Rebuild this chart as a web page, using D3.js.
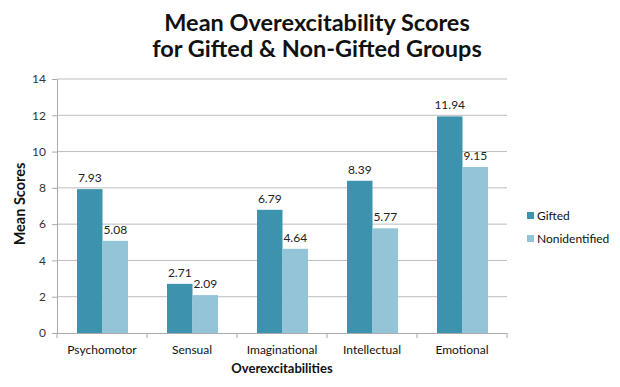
<!DOCTYPE html>
<html>
<head>
<meta charset="utf-8">
<script src="https://cdn.jsdelivr.net/npm/d3@7"></script>
<style>
  body { margin: 0; background: #fff; }
  text { font-family: Lato, "Open Sans", sans-serif; }
</style>
</head>
<body>
<svg id="chart" width="620" height="387"></svg>
<script>
const categories = ["Psychomotor", "Sensual", "Imaginational", "Intellectual", "Emotional"];
const series = ["Gifted", "Nonidentified"];
const gifted = [7.93, 2.71, 6.79, 8.39, 11.94];
const nonidentified = [5.08, 2.09, 4.64, 5.77, 9.15];
const yTicks = [0, 2, 4, 6, 8, 10, 12, 14];
const colors = ["#3d93ad", "#93c4d7"];

const svg = d3.select("#chart");
const margin = { left: 57, right: 113, top: 79, bottom: 54 };
const width = 620 - margin.left - margin.right;
const height = 387 - margin.top - margin.bottom;

const g = svg.append("g").attr("transform", `translate(${margin.left},${margin.top})`);

const x = d3.scaleBand().domain(categories).range([0, width]);
const y = d3.scaleLinear().domain([0, 14]).range([height, 0]);
const barW = 25.5;
const xs = d3.scaleBand().domain(series).range([20, 20 + barW * 2]);

// gridlines
g.selectAll(".grid").data(yTicks.slice(1)).enter().append("line")
  .attr("x1", 0).attr("x2", width)
  .attr("y1", d => y(d)).attr("y2", d => y(d))
  .attr("stroke", "#bdbdbd").attr("stroke-width", 1);

// y axis
const yAxis = g.append("g").call(d3.axisLeft(y).tickValues(yTicks).tickSize(5).tickPadding(6));
yAxis.select(".domain").attr("stroke", "#aaa");
yAxis.selectAll(".tick line").attr("stroke", "#aaa");
yAxis.selectAll("text").attr("fill", "#333").style("font-size", "12px");

// bars
const rows = categories.map((c, i) => ({ cat: c, vals: [gifted[i], nonidentified[i]] }));
const grp = g.selectAll(".grp").data(rows).enter().append("g")
  .attr("transform", d => `translate(${x(d.cat)},0)`);

grp.selectAll("rect").data(d => d.vals.map((v, j) => ({ s: series[j], v, j }))).enter().append("rect")
  .attr("x", d => xs(d.s)).attr("width", xs.bandwidth())
  .attr("y", d => y(d.v)).attr("height", d => height - y(d.v))
  .attr("fill", d => colors[d.j]);

grp.selectAll(".lbl").data(d => d.vals.map((v, j) => ({ s: series[j], v, j }))).enter().append("text")
  .attr("x", d => xs(d.s) + xs.bandwidth() / 2)
  .attr("y", d => y(d.v) - 7)
  .attr("text-anchor", "middle")
  .attr("fill", "#222").style("font-size", "12px")
  .text(d => d.v.toFixed(2));

// x axis
const xAxis = g.append("g").attr("transform", `translate(0,${height})`)
  .call(d3.axisBottom(x).tickSize(0).tickPadding(12));
xAxis.select(".domain").attr("stroke", "#aaa");
xAxis.selectAll("text").attr("fill", "#111").style("font-size", "12px");
g.append("g").selectAll("line").data(d3.range(categories.length + 1)).enter().append("line")
  .attr("x1", i => i * x.step()).attr("x2", i => i * x.step())
  .attr("y1", height).attr("y2", height + 5)
  .attr("stroke", "#aaa");

// axis titles
svg.append("text").attr("x", margin.left + width / 2).attr("y", 373)
  .attr("text-anchor", "middle").style("font-size", "13px").style("font-weight", "bold")
  .attr("fill", "#111").text("Overexcitabilities");
svg.append("text").attr("transform", `translate(25,${margin.top + height / 2 - 2}) rotate(-90)`)
  .attr("text-anchor", "middle").style("font-size", "14.5px").style("font-weight", "bold")
  .attr("fill", "#111").text("Mean Scores");

// title
const title = svg.append("text").attr("text-anchor", "middle").style("font-size", "23.5px")
  .style("font-weight", "bold").attr("fill", "#111");
title.append("tspan").attr("x", 317).attr("y", 31).text("Mean Overexcitability Scores");
title.append("tspan").attr("x", 317).attr("y", 57).text("for Gifted & Non-Gifted Groups");

// legend
const leg = svg.append("g").attr("transform", "translate(527,212)");
series.forEach((s, i) => {
  leg.append("rect").attr("x", 0).attr("y", i * 23).attr("width", 7).attr("height", 7).attr("fill", colors[i]);
  leg.append("text").attr("x", 10).attr("y", i * 23 + 7.5).style("font-size", "12px")
    .attr("fill", "#111").text(s);
});
</script>
</body>
</html>
